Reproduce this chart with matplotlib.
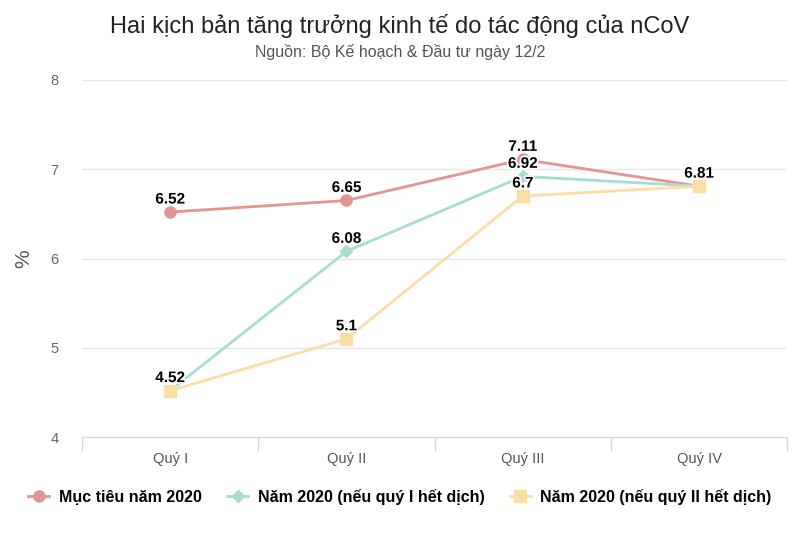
import matplotlib.pyplot as plt
import matplotlib.patheffects as pe
from matplotlib.lines import Line2D

quarters = ['Quý I', 'Quý II', 'Quý III', 'Quý IV']
muc_tieu = [6.52, 6.65, 7.11, 6.81]
het_dich_q1 = [4.52, 6.08, 6.92, 6.81]
het_dich_q2 = [4.52, 5.1, 6.7, 6.81]

names = ['Mục tiêu năm 2020', 'Năm 2020 (nếu quý I hết dịch)', 'Năm 2020 (nếu quý II hết dịch)']
colors = ['#e39494', '#a6dcd2', '#fbdea6']
markers = ['o', 'D', 's']
msizes = [8, 6, 8]
# which labels Highcharts kept visible (overlaps hidden)
show = [[True, True, True, True],
        [True, True, True, False],
        [False, True, True, False]]

sans = ['Liberation Sans', 'DejaVu Sans']

fig = plt.figure(figsize=(8, 5.33), dpi=100)
ax = fig.add_axes([0.1025, 0.18, 0.8815, 0.67])

x = list(range(len(quarters)))
series = [muc_tieu, het_dich_q1, het_dich_q2]
for vals, c, m, ms in zip(series, colors, markers, msizes):
    ax.plot(x, vals, color=c, lw=2, marker=m, ms=ms, mec=c, zorder=3)

for vals, flags in zip(series, show):
    for i, (v, f) in enumerate(zip(vals, flags)):
        if f:
            t = ax.annotate(f'{v:g}', (i, v), xytext=(0, 4), textcoords='offset points',
                            ha='center', va='bottom', fontsize=11, fontweight='bold',
                            family=sans, color='black', zorder=5)
            t.set_path_effects([pe.withStroke(linewidth=2.5, foreground='white')])

ax.set_xlim(-0.5, 3.5)
ax.set_ylim(4, 8)
ax.set_yticks([4, 5, 6, 7, 8])
ax.set_xticks(x)
ax.set_xticklabels(quarters, family=sans, fontsize=10.5, color='#555555')
ax.set_xticks([-0.5, 0.5, 1.5, 2.5, 3.5], minor=True)
ax.tick_params(axis='x', which='major', length=0, pad=11)
ax.tick_params(axis='x', which='minor', length=10, color='#ccd6eb', width=1)
ax.tick_params(axis='y', length=0, pad=17, labelsize=10.5, labelcolor='#666666')
for lbl in ax.get_yticklabels():
    lbl.set_family(sans)
ax.grid(axis='y', color='#e6e6e6', lw=1)
ax.set_axisbelow(True)
for s in ['top', 'right', 'left']:
    ax.spines[s].set_visible(False)
ax.spines['bottom'].set_color('#ccd6eb')
ax.set_ylabel('%', fontsize=15, color='#555555', family=sans, labelpad=12)

fig.text(0.5, 0.952, 'Hai kịch bản tăng trưởng kinh tế do tác động của nCoV',
         ha='center', va='center', fontsize=17, color='#222222', family=sans)
fig.text(0.5, 0.903, 'Nguồn: Bộ Kế hoạch & Đầu tư ngày 12/2',
         ha='center', va='center', fontsize=11.5, color='#555555', family=sans)

handles = [Line2D([], [], color=c, lw=2, marker=m, ms=ms, mec=c)
           for c, m, ms in zip(colors, markers, msizes)]
fig.legend(handles, names, loc='center', bbox_to_anchor=(0.5, 0.068), ncol=3,
           frameon=False, prop={'family': sans, 'weight': 'bold', 'size': 11.5},
           handlelength=1.3, columnspacing=1.6, handletextpad=0.6)

fig.savefig('out.png', dpi=100)
